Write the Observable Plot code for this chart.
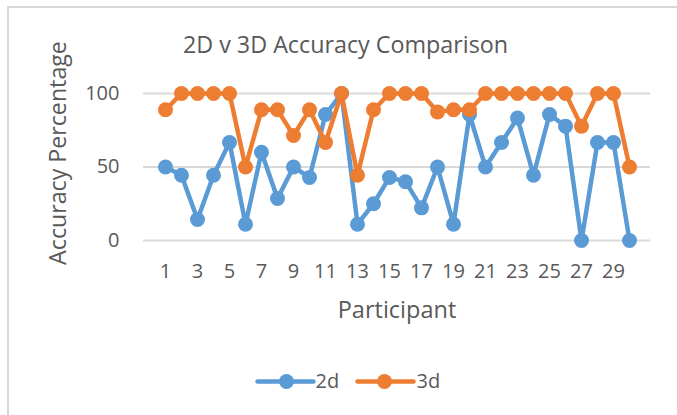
<!DOCTYPE html>
<html><head><meta charset="utf-8">
<script src="https://cdn.jsdelivr.net/npm/d3@7"></script>
<script src="https://cdn.jsdelivr.net/npm/@observablehq/plot@0.6"></script>
<style>
html,body{margin:0;padding:0;background:#fff;width:677px;height:415px;overflow:hidden;position:relative;font-family:"Open Sans",sans-serif;color:#595959}
#frame{position:absolute;left:7px;top:6px;width:680px;height:420px;border-top:2px solid #d9d9d9;border-left:2px solid #d9d9d9}
#chart{position:absolute;left:0;top:0}
.lbl{position:absolute;white-space:nowrap;color:#595959;line-height:1}
#title{left:0;width:691px;top:33px;text-align:center;font-size:23.3px}
#ytitle{left:58px;top:153px;transform:translate(-50%,-50%) rotate(-90deg);font-size:23.2px}
#xtitle{left:0;width:794px;top:298px;text-align:center;font-size:23.5px}
#legend{position:absolute;left:0;top:368px}
</style></head><body>
<div id="frame"></div>
<div id="chart"></div>
<div class="lbl" id="title">2D v 3D Accuracy Comparison</div>
<div class="lbl" id="ytitle">Accuracy Percentage</div>
<div class="lbl" id="xtitle">Participant</div>
<div id="legend"></div>
<script>
const participants = [1,2,3,4,5,6,7,8,9,10,11,12,13,14,15,16,17,18,19,20,21,22,23,24,25,26,27,28,29,30];
const xTickLabels = [1,3,5,7,9,11,13,15,17,19,21,23,25,27,29];
const yTicks = [0,50,100];
const acc2d = [50,44.4,14.3,44.4,66.7,11.1,60,28.6,50,42.9,85.7,100,11.1,25,42.9,40,22.2,50,11.1,85.7,50,66.7,83.3,44.4,85.7,77.8,0,66.7,66.7,0];
const acc3d = [88.9,100,100,100,100,50,88.9,88.9,71.4,88.9,66.7,100,44.4,88.9,100,100,100,87.5,88.9,88.9,100,100,100,100,100,100,77.8,100,100,50];
const seriesNames = ["2d","3d"];
const colors = ["#5b9bd5","#ed7d31"];

const d2 = participants.map((p,i)=>({p, v: acc2d[i], s: seriesNames[0]}));
const d3s = participants.map((p,i)=>({p, v: acc3d[i], s: seriesNames[1]}));

const chart = Plot.plot({
  width: 677, height: 415,
  marginLeft: 143, marginRight: 27, marginTop: 93, marginBottom: 175,
  style: {fontFamily: "'Open Sans', sans-serif", fontSize: "20px", color: "#595959", background: "transparent", overflow: "visible"},
  x: {type: "point", domain: participants, padding: 0.5, label: null},
  y: {domain: [0,100], label: null},
  marks: [
    Plot.ruleY(yTicks, {stroke: "#d9d9d9", strokeWidth: 2}),
    Plot.axisY({ticks: yTicks, tickSize: 0, tickPadding: 24, label: null, fill: "#595959"}),
    Plot.axisX({ticks: xTickLabels, tickSize: 0, tickPadding: 23, label: null, fill: "#595959"}),
    Plot.line(d2, {x: "p", y: "v", stroke: colors[0], strokeWidth: 4.5}),
    Plot.dot(d2, {x: "p", y: "v", r: 7.5, fill: colors[0], stroke: null}),
    Plot.line(d3s, {x: "p", y: "v", stroke: colors[1], strokeWidth: 4.5}),
    Plot.dot(d3s, {x: "p", y: "v", r: 7.5, fill: colors[1], stroke: null})
  ]
});
document.getElementById("chart").appendChild(chart);

const legItems = [{s:"2d", x0:257, x1:313, xd:286, xt:315},{s:"3d", x0:357, x1:413, xd:384, xt:416}];
const leg = Plot.plot({
  width: 677, height: 26, margin: 0,
  style: {fontFamily: "'Open Sans', sans-serif", fontSize: "20px", background: "transparent", overflow: "visible"},
  x: {domain: [0,677], range: [0,677], axis: null},
  y: {domain: [0,1], range: [26,0], axis: null},
  color: {domain: seriesNames, range: colors},
  marks: [
    Plot.link(legItems, {x1: "x0", x2: "x1", y1: 0.5, y2: 0.5, stroke: "s", strokeWidth: 4.5, strokeLinecap: "round"}),
    Plot.dot(legItems, {x: "xd", y: 0.5, r: 7.5, fill: "s"}),
    Plot.text(legItems, {x: "xt", y: 0.5, text: "s", textAnchor: "start", fill: "#595959"})
  ]
});
document.getElementById("legend").appendChild(leg);
</script>
</body></html>
